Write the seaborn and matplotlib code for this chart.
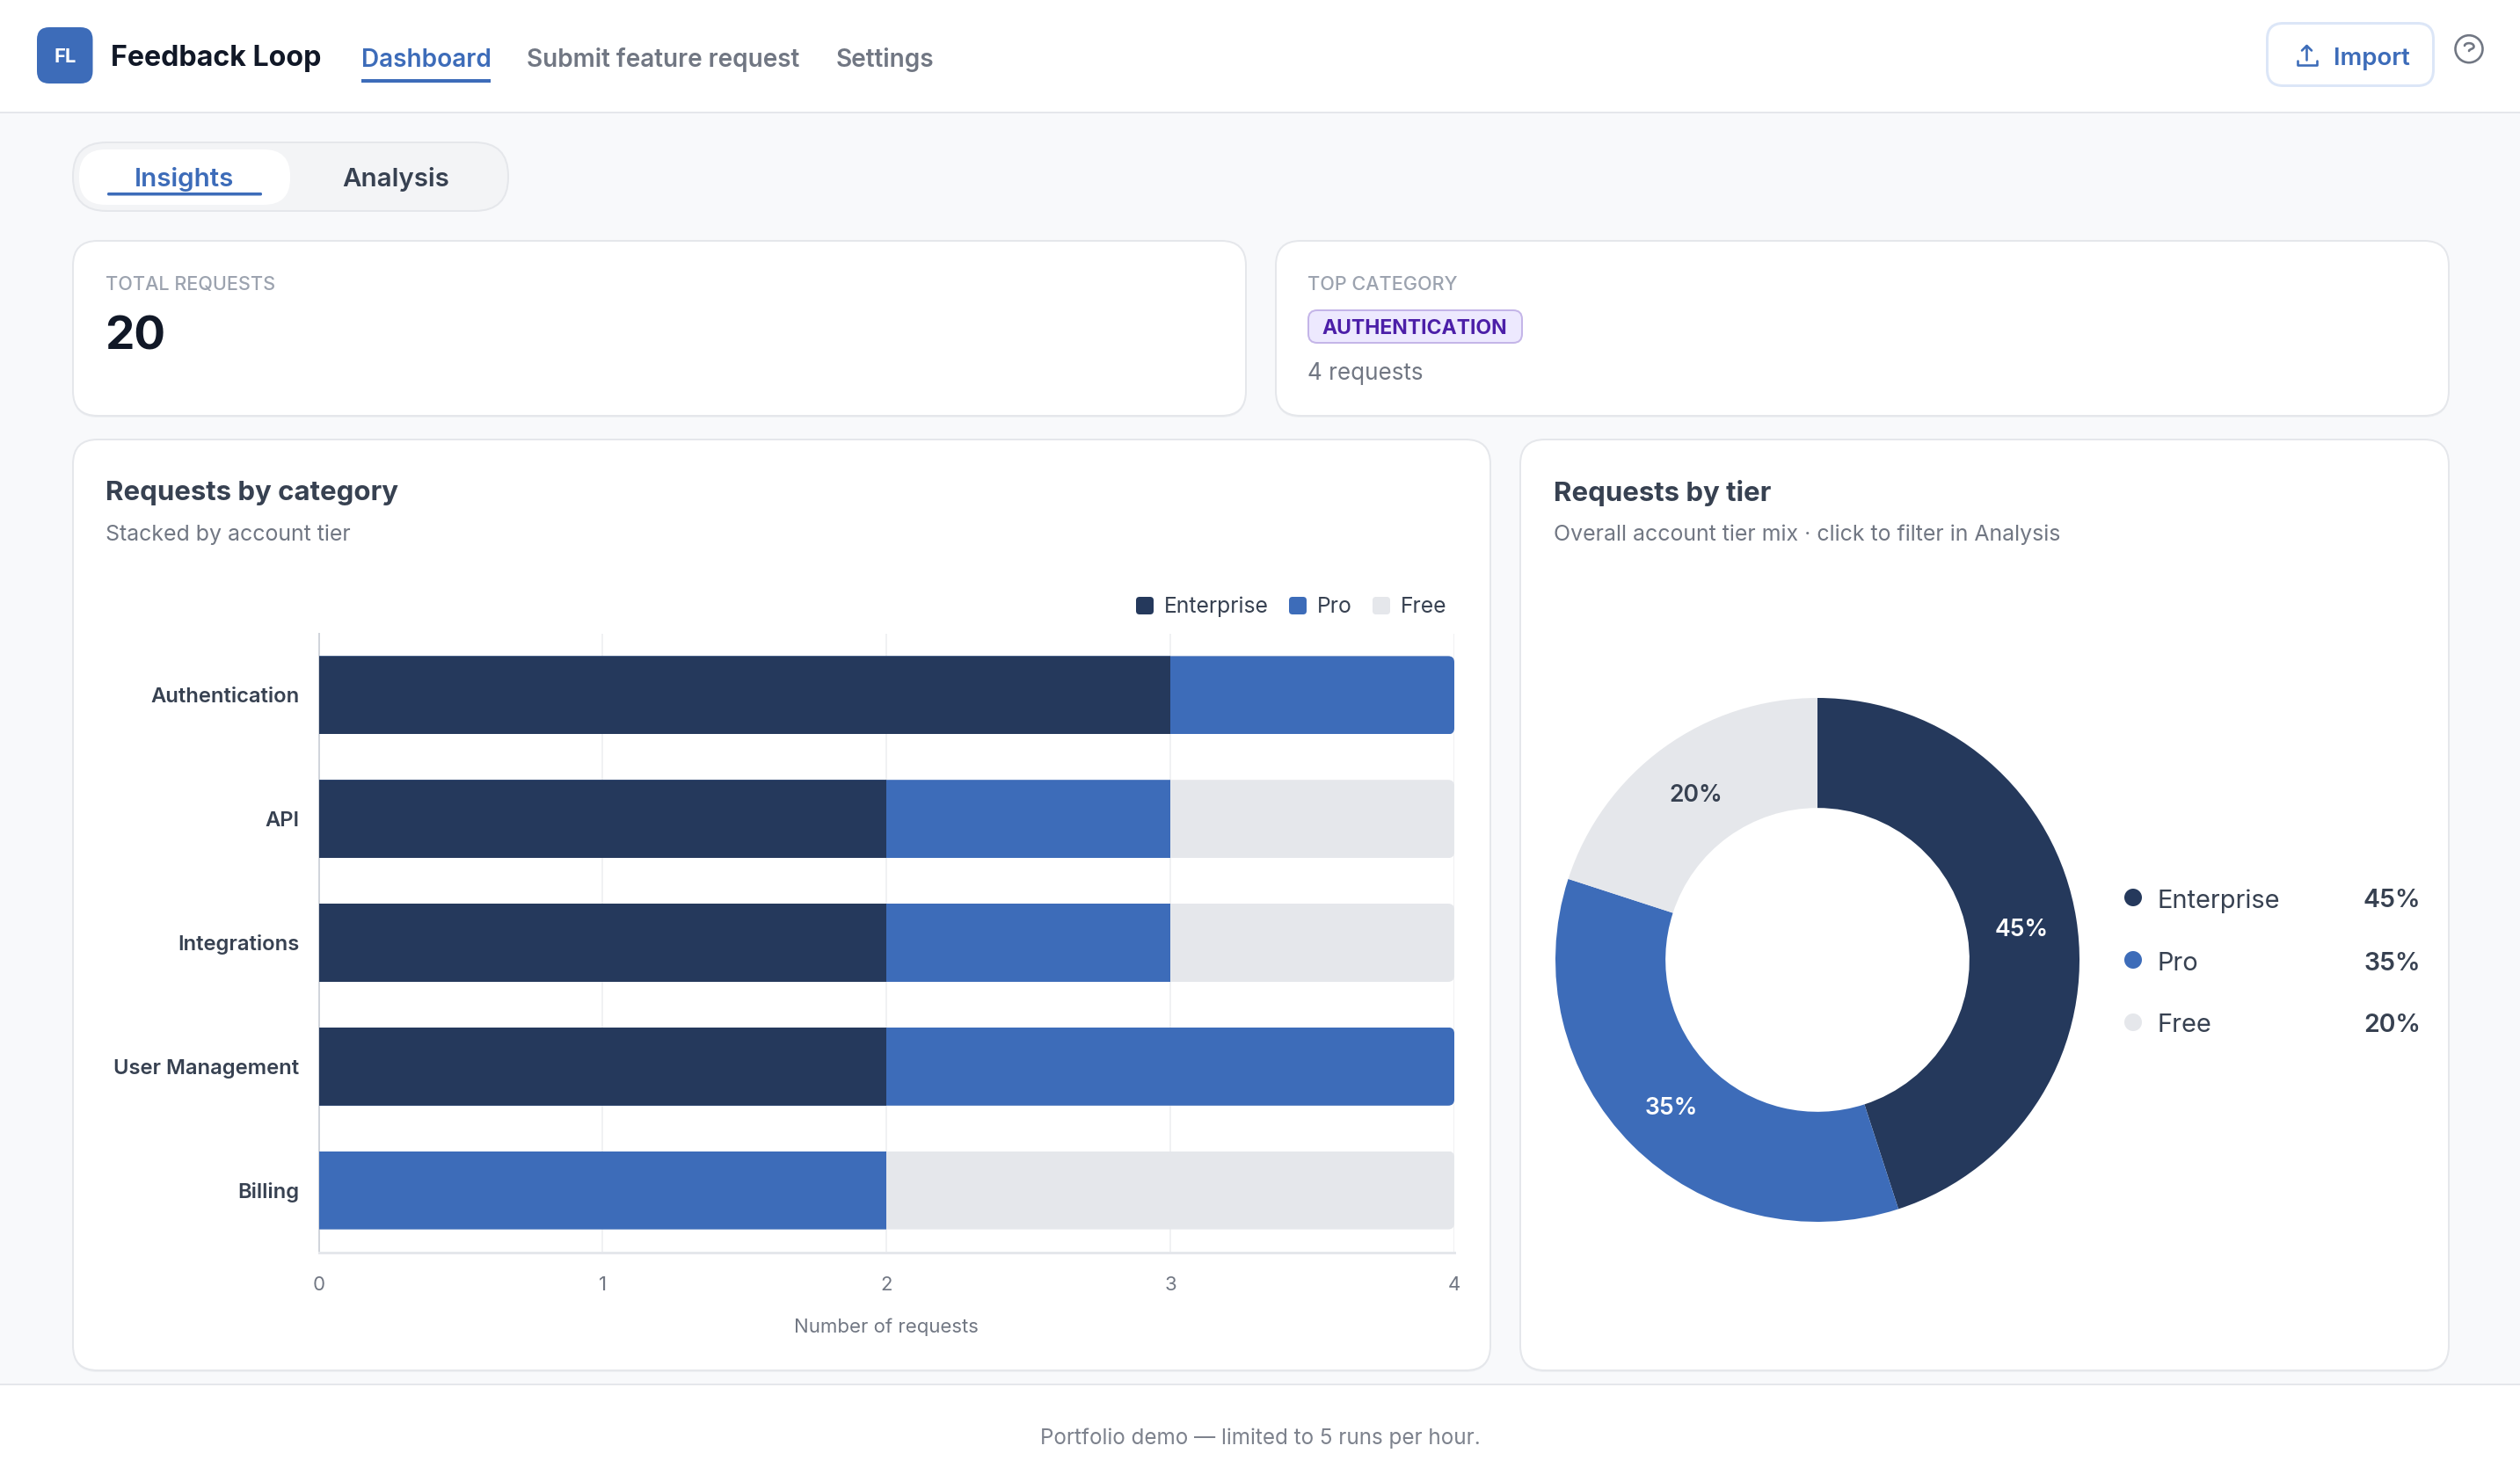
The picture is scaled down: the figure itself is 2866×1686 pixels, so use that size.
import matplotlib

matplotlib.use("Agg")
import matplotlib.pyplot as plt
import pandas as pd
import seaborn as sns
from matplotlib.patches import Circle, FancyBboxPatch, PathPatch, Rectangle
from matplotlib.path import Path
from matplotlib.transforms import IdentityTransform

W, H = 2866, 1686
FONT = "Inter"

NAVY = "#25395c"
BLUE = "#3d6cb9"
LIGHT = "#e5e7eb"
PAGE = "#f8f9fb"
INK = "#111827"
SLATE = "#374151"
MUTED = "#717783"
FAINT = "#9ca3af"

categories = ["Authentication", "API", "Integrations", "User Management", "Billing"]
tiers = ["Enterprise", "Pro", "Free"]
enterprise = [3, 2, 2, 2, 0]
pro = [1, 1, 1, 2, 2]
free = [0, 1, 1, 0, 2]
tier_colors = [NAVY, BLUE, LIGHT]
tier_share = [45, 35, 20]
x_ticks = [0, 1, 2, 3, 4]

sns.set_theme(style="white")
plt.rcParams["font.family"] = [FONT, "DejaVu Sans"]


def px(size):
    return size * 72 / 100


def axes_rect(x0, y0, x1, y1):
    return [x0 / W, 1 - y1 / H, (x1 - x0) / W, (y1 - y0) / H]


fig = plt.figure(figsize=(W / 100, H / 100), dpi=100, facecolor=PAGE)
ui = fig.add_axes([0, 0, 1, 1], zorder=0)
ui.set_xlim(0, W)
ui.set_ylim(H, 0)
ui.axis("off")


def box(x0, y0, x1, y1, radius, face="white", edge="none", lw=0, z=1):
    ui.add_patch(
        FancyBboxPatch(
            (x0, y0), x1 - x0, y1 - y0,
            boxstyle=f"round,pad=0,rounding_size={radius}",
            facecolor=face, edgecolor=edge, linewidth=px(lw), zorder=z,
        )
    )


def card(x0, y0, x1, y1):
    # faint drop shadow under the border
    box(x0, y0 + 2, x1, y1 + 2, 28, face="#eef0f3", z=0.9)
    box(x0, y0, x1, y1, 28, edge=LIGHT, lw=2)


def label(x, y, text, size, color=SLATE, weight="normal", ha="left", **kwargs):
    ui.text(x, y, text, fontsize=px(size), color=color, fontweight=weight,
            ha=ha, va="center_baseline", zorder=5, **kwargs)


# header and footer bands
ui.add_patch(Rectangle((0, 0), W, 127, facecolor="white", edgecolor="none"))
ui.plot([0, W], [127.5, 127.5], color=LIGHT, lw=px(2))
ui.add_patch(Rectangle((0, 1575), W, 111, facecolor="white", edgecolor="none"))
ui.plot([0, W], [1575, 1575], color=LIGHT, lw=px(2))
label(1433, 1634, "Portfolio demo \u2014 limited to 5 runs per hour.", 24.2, color="#7d828d", ha="center")

# logo and nav
box(42, 31, 105.5, 95, 14, face=BLUE)
label(74, 63, "FL", 22, color="white", weight="bold", ha="center")
label(126, 63, "Feedback Loop", 32.2, color=INK, weight="bold")
label(411, 65, "Dashboard", 28, color=BLUE, weight="semibold")
ui.add_patch(Rectangle((411, 90), 147.5, 4, facecolor=BLUE, edgecolor="none"))
label(599, 65, "Submit feature request", 27.9, color=MUTED, weight="semibold")
label(951, 65, "Settings", 28, color=MUTED, weight="semibold")

# import button and help icon
box(2578.5, 26.5, 2767.5, 97.5, 18, face="white", edge="#dce6f7", lw=3)
ui.plot([2623.5, 2623.5], [52, 68], color=BLUE, lw=px(2.6), solid_capstyle="round")
ui.plot([2618, 2623.5, 2629], [57.5, 52, 57.5], color=BLUE, lw=px(2.6), solid_capstyle="round")
ui.plot([2613, 2613, 2635, 2635], [69, 74, 74, 69], color=BLUE, lw=px(2.6), solid_capstyle="round")
label(2654, 64, "Import", 27.5, color=BLUE, weight="semibold")
ui.add_patch(Circle((2808, 55.7), 15.5, facecolor="none", edgecolor=MUTED, linewidth=px(2.6)))
hook = Path(
    [(2803, 52), (2803.5, 48), (2813.5, 48), (2813.5, 53), (2813.5, 56), (2808.5, 55.5), (2808, 58)],
    [Path.MOVETO, Path.CURVE4, Path.CURVE4, Path.CURVE4, Path.CURVE4, Path.CURVE4, Path.CURVE4],
)
ui.add_patch(PathPatch(hook, facecolor="none", edgecolor=MUTED, linewidth=px(2.6), capstyle="round"))

# tabs
box(83, 162, 578, 240, 38, face="#f3f4f6", edge=LIGHT, lw=2)
box(90, 170, 330, 233, 30, face="white")
label(210, 201, "Insights", 29.5, color=BLUE, weight="semibold", ha="center")
box(122, 219, 298, 222.5, 1.5, face=BLUE, z=3)
label(450, 201, "Analysis", 29.5, color=SLATE, weight="semibold", ha="center")

# stat cards
card(83, 274, 1417, 473)
card(1451, 274, 2785, 473)
label(120, 322, "TOTAL REQUESTS", 21.6, color=FAINT, weight="medium")
label(119, 379, "20", 53, color=INK, weight="bold")
label(1487, 322, "TOP CATEGORY", 21.6, color=FAINT, weight="medium")
box(1488, 353, 1731, 390, 10, face="#ede9fe", edge="#c4b5e8", lw=2)
label(1609, 372, "AUTHENTICATION", 23, color="#4c1fa8", weight="bold", ha="center")
label(1487, 422, "4 requests", 26, color=MUTED)

# chart cards
card(83, 500, 1695, 1559)
card(1729, 500, 2785, 1559)
label(120, 558, "Requests by category", 31.2, color=SLATE, weight="bold")
label(120, 606, "Stacked by account tier", 24.9, color=MUTED)
label(1767, 558, "Requests by tier", 31.2, color=SLATE, weight="bold")
label(1767, 606, "Overall account tier mix \u00b7 click to filter in Analysis", 24.9, color=MUTED)

# stacked bar legend
for tier, color, sq_x, text_x in zip(tiers, tier_colors, [1292, 1466, 1561], [1324, 1498, 1593]):
    box(sq_x, 679, sq_x + 20, 699, 4, face=color, z=3)
    label(text_x, 688, tier, 24.7, color=SLATE)

# stacked bars: cumulative layers, back to front
df = pd.DataFrame({"category": categories, "Enterprise": enterprise, "Pro": pro, "Free": free})
df["upto_pro"] = df["Enterprise"] + df["Pro"]
df["upto_free"] = df["upto_pro"] + df["Free"]

ax = fig.add_axes(axes_rect(362.5, 720.5, 1654, 1424.5), zorder=2)
ax.patch.set_alpha(0)
for column, color in [("upto_free", LIGHT), ("upto_pro", BLUE), ("Enterprise", NAVY)]:
    sns.barplot(data=df, y="category", x=column, color=color, width=0.632, saturation=1,
                orient="y", ax=ax, zorder=3, linewidth=0)
ax.set_xlim(0, 4)
ax.set_ylim(4.5, -0.5)
ax.set_xticks(x_ticks)
ax.set_xlabel("Number of requests", fontsize=px(22.2), color=MUTED, labelpad=px(27))
ax.set_ylabel("")
ax.grid(axis="x", color="#f0f1f3", linewidth=px(2))
ax.grid(axis="y", visible=False)
ax.set_axisbelow(True)
ax.tick_params(axis="x", length=px(16), width=px(2), color="#eceef1", labelsize=px(22.2),
               labelcolor=MUTED, pad=px(12))
ax.tick_params(axis="y", length=0, labelsize=px(23.8), labelcolor=SLATE, pad=px(22))
for tick in ax.get_yticklabels():
    tick.set_fontweight("semibold")
    tick.set_verticalalignment("center_baseline")
sns.despine(ax=ax, top=True, right=True)
ax.spines["left"].set_color("#d1d5db")
ax.spines["left"].set_linewidth(px(2))
ax.spines["bottom"].set_color(LIGHT)
ax.spines["bottom"].set_linewidth(px(3))

# round only the right end of each stack
fig.canvas.draw()
n = len(categories)
layers = [ax.patches[i * n:(i + 1) * n] for i in range(3)]
for row in range(n):
    extent = layers[0][row].get_window_extent()
    clip = FancyBboxPatch(
        (extent.x0 - 30, extent.y0), extent.width + 30, extent.height,
        boxstyle="round,pad=0,rounding_size=7", transform=IdentityTransform(),
    )
    for layer in layers:
        layer[row].set_clip_path(clip)

# donut
dx = fig.add_axes(axes_rect(2067 - 298, 1092 - 298, 2067 + 298, 1092 + 298), zorder=2)
wedges, _, pcts = dx.pie(
    tier_share, colors=tier_colors, startangle=90, counterclock=False, radius=1,
    wedgeprops={"width": 0.42, "linewidth": 0}, autopct="%d%%", pctdistance=0.79,
)
for pct, color in zip(pcts, ["white", "white", SLATE]):
    pct.set_color(color)
    pct.set_fontsize(px(26.5))
    pct.set_fontweight("semibold")
    pct.set_verticalalignment("center_baseline")
dx.set_xlim(-1, 1)
dx.set_ylim(-1, 1)

# donut legend
for tier, share, color, y in zip(tiers, tier_share, tier_colors, [1021, 1092, 1163]):
    ui.add_patch(Circle((2426, y), 10, facecolor=color, edgecolor="none", zorder=3))
    label(2454, y + 1, tier, 29, color=SLATE)
    label(2753, y + 1, f"{share}%", 28.5, color=SLATE, weight="semibold", ha="right")

fig.savefig("out.png", dpi=100, facecolor=PAGE)
